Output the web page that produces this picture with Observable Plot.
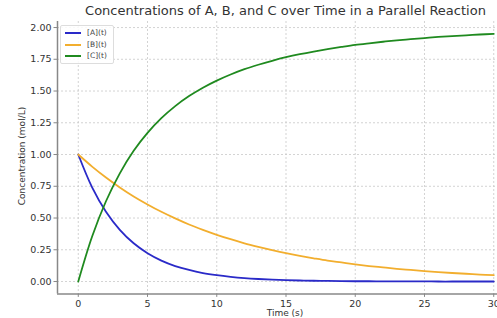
<!DOCTYPE html>
<html>
<head>
<meta charset="utf-8">
<script src="https://cdn.jsdelivr.net/npm/d3@7"></script>
<script src="https://cdn.jsdelivr.net/npm/@observablehq/plot@0.6"></script>
<style>
  html, body { margin: 0; padding: 0; background: #fff; overflow: hidden; width: 497px; height: 318px; }
  body { position: relative; font-family: "DejaVu Sans", sans-serif; color: #333; }
  #title { position: absolute; left: 57px; top: 0; width: 457px; height: 20px; line-height: 22px; text-align: center; font-size: 13px; color: #333; white-space: nowrap; }
  #chart { position: absolute; left: 0; top: 20px; width: 530px; }
  #chart svg { max-width: none !important; }
  #ylab { position: absolute; left: 22px; top: 156px; transform: translate(-50%, -50%) rotate(-90deg); font-size: 9px; white-space: nowrap; color: #333; }
  #xlab { position: absolute; left: 285px; top: 313px; transform: translate(-50%, -50%); font-size: 9px; white-space: nowrap; color: #333; }
  #legend { position: absolute; left: 60px; top: 25px; width: 52px; height: 37px; border: 1px solid #ddd; border-radius: 2px; background: rgba(255,255,255,0.85); font-size: 7.5px; color: #444; }
  #legend div { position: relative; height: 11.5px; line-height: 11.5px; padding-left: 26px; }
  #legend div:first-child { margin-top: 1px; }
  #legend span.sw { position: absolute; left: 4px; top: 5px; width: 16px; height: 2px; }
</style>
</head>
<body>
<div id="title">Concentrations of A, B, and C over Time in a Parallel Reaction</div>
<div id="chart"></div>
<div id="ylab">Concentration (mol/L)</div>
<div id="xlab">Time (s)</div>
<div id="legend"></div>
<script>
// Data (time in s, concentrations in mol/L)
const time  = [0,1,2,3,4,5,6,7,8,9,10,11,12,13,14,15,16,17,18,19,20,21,22,23,24,25,26,27,28,29,30];
const concA = [1.000,0.741,0.549,0.407,0.301,0.223,0.165,0.122,0.091,0.067,0.050,0.037,0.027,0.020,0.015,0.011,0.008,0.006,0.005,0.003,0.002,0.002,0.001,0.001,0.001,0.001,0,0,0,0,0];
const concB = [1.000,0.905,0.819,0.741,0.670,0.607,0.549,0.497,0.449,0.407,0.368,0.333,0.301,0.273,0.247,0.223,0.202,0.183,0.165,0.150,0.135,0.122,0.111,0.100,0.091,0.082,0.074,0.067,0.061,0.055,0.050];
const concC = [0,0.354,0.632,0.852,1.029,1.170,1.286,1.381,1.460,1.526,1.582,1.630,1.672,1.707,1.738,1.766,1.790,1.811,1.830,1.847,1.863,1.876,1.888,1.899,1.908,1.917,1.926,1.933,1.939,1.945,1.950];
const seriesNames = ["[A](t)", "[B](t)", "[C](t)"];
const seriesColors = ["#2a2ac8", "#f2ae2e", "#1f8a1f"];
const xTicks = [0,5,10,15,20,25,30];
const yTicks = [0,0.25,0.5,0.75,1.0,1.25,1.5,1.75,2.0];

const rows = [];
[concA, concB, concC].forEach((arr, si) => {
  arr.forEach((v, i) => rows.push({t: time[i], c: v, s: seriesNames[si]}));
});

const xDomain = [-1.5, 31.5];
const yDomain = [-0.0975, 2.0475];

const plot = Plot.plot({
  width: 530,
  height: 298,
  marginLeft: 57,
  marginRight: 16,
  marginTop: 1,
  marginBottom: 24.6,
  style: {fontFamily: "DejaVu Sans, sans-serif", fontSize: "9.5px", color: "#333", background: "transparent", maxWidth: "none"},
  x: {domain: xDomain, label: null},
  y: {domain: yDomain, label: null},
  color: {domain: seriesNames, range: seriesColors},
  marks: [
    Plot.gridX(xTicks, {stroke: "#c8c8c8", strokeOpacity: 1, strokeDasharray: "2,2", strokeWidth: 0.8}),
    Plot.gridY(yTicks, {stroke: "#c8c8c8", strokeOpacity: 1, strokeDasharray: "2,2", strokeWidth: 0.8}),
    Plot.line(rows, {x: "t", y: "c", z: "s", stroke: "s", strokeWidth: 1.8, curve: "catmull-rom"}),
    Plot.ruleX([xDomain[0]], {stroke: "#888", strokeWidth: 1.5}),
    Plot.ruleY([yDomain[0]], {stroke: "#888", strokeWidth: 1.5}),
    Plot.axisX(xTicks, {tickSize: 3.5, tickPadding: 2.5, stroke: "#888", label: null}),
    Plot.axisY(yTicks, {tickSize: 3.5, tickPadding: 2.5, stroke: "#888", tickFormat: d3.format(".2f"), label: null})
  ]
});
plot.style.maxWidth = "none";
document.getElementById("chart").appendChild(plot);

const leg = document.getElementById("legend");
seriesNames.forEach((n, i) => {
  const d = document.createElement("div");
  d.innerHTML = `<span class="sw" style="background:${seriesColors[i]}"></span>${n}`;
  leg.appendChild(d);
});
</script>
</body>
</html>
